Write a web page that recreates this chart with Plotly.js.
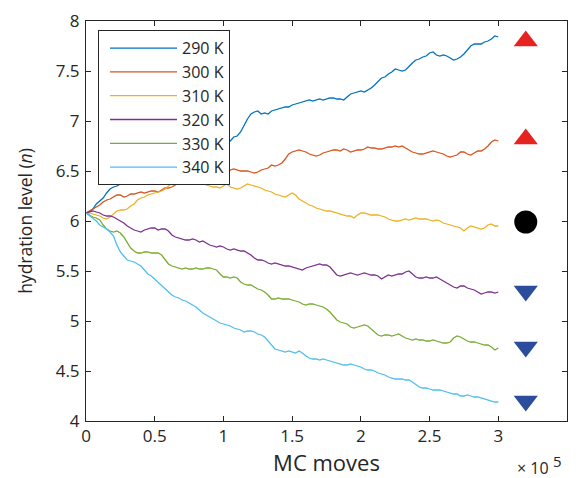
<!DOCTYPE html>
<html>
<head>
<meta charset="utf-8">
<script src="https://cdn.plot.ly/plotly-3.0.1.min.js"></script>
<style>html,body{margin:0;padding:0;background:#fff;}#chart{width:576px;height:478px;}</style>
</head>
<body>
<div id="chart"></div>
<script>
// MC moves (×10^5)
const moves = [
  0,0.025,0.05,0.075,0.1,0.125,0.15,0.175,0.2,0.225,0.25,0.275,0.3,0.325,0.35,0.375,0.4,0.425,0.45,0.475,
  0.5,0.525,0.55,0.575,0.6,0.625,0.65,0.675,0.7,0.725,0.75,0.775,0.8,0.825,0.85,0.875,0.9,0.925,0.95,0.975,
  1.0,1.025,1.05,1.075,1.1,1.125,1.15,1.175,1.2,1.225,1.25,1.275,1.3,1.325,1.35,1.375,1.4,1.425,1.45,1.475,
  1.5,1.525,1.55,1.575,1.6,1.625,1.65,1.675,1.7,1.725,1.75,1.775,1.8,1.825,1.85,1.875,1.9,1.925,1.95,1.975,
  2.0,2.025,2.05,2.075,2.1,2.125,2.15,2.175,2.2,2.225,2.25,2.275,2.3,2.325,2.35,2.375,2.4,2.425,2.45,2.475,
  2.5,2.525,2.55,2.575,2.6,2.625,2.65,2.675,2.7,2.725,2.75,2.775,2.8,2.825,2.85,2.875,2.9,2.925,2.95,2.975,
  3.0];

const labels = ['290 K','300 K','310 K','320 K','330 K','340 K'];

const n290 = [
  6.08,6.09,6.12,6.17,6.20,6.23,6.28,6.32,6.34,6.35,6.37,6.40,6.41,6.41,6.42,6.43,6.43,6.44,6.46,6.47,
  6.48,6.50,6.51,6.52,6.53,6.54,6.56,6.57,6.58,6.60,6.61,6.62,6.64,6.66,6.67,6.68,6.70,6.72,6.73,6.74,
  6.76,6.78,6.80,6.84,6.85,6.89,6.96,7.02,7.07,7.09,7.10,7.07,7.08,7.07,7.10,7.11,7.12,7.13,7.14,7.14,
  7.16,7.17,7.18,7.19,7.20,7.21,7.20,7.21,7.22,7.21,7.22,7.23,7.23,7.22,7.22,7.21,7.24,7.27,7.28,7.29,
  7.30,7.29,7.31,7.33,7.36,7.40,7.43,7.44,7.47,7.49,7.52,7.51,7.50,7.51,7.55,7.58,7.61,7.62,7.64,7.65,
  7.68,7.69,7.66,7.65,7.66,7.65,7.63,7.61,7.62,7.64,7.67,7.71,7.75,7.77,7.77,7.77,7.79,7.80,7.82,7.85,
  7.84];
const n300 = [
  6.08,6.10,6.12,6.14,6.16,6.19,6.21,6.22,6.24,6.26,6.26,6.24,6.25,6.27,6.27,6.28,6.29,6.28,6.29,6.30,
  6.30,6.29,6.31,6.33,6.33,6.34,6.36,6.38,6.40,6.42,6.42,6.40,6.41,6.43,6.42,6.40,6.40,6.38,6.40,6.41,
  6.44,6.48,6.51,6.52,6.51,6.50,6.50,6.50,6.49,6.48,6.49,6.51,6.52,6.53,6.56,6.55,6.56,6.58,6.62,6.67,
  6.69,6.70,6.71,6.70,6.69,6.67,6.66,6.65,6.66,6.68,6.69,6.70,6.71,6.71,6.70,6.72,6.71,6.69,6.70,6.71,
  6.71,6.72,6.74,6.73,6.73,6.72,6.72,6.73,6.74,6.74,6.75,6.74,6.75,6.73,6.71,6.69,6.68,6.67,6.67,6.68,
  6.69,6.70,6.69,6.68,6.67,6.65,6.64,6.65,6.66,6.69,6.69,6.67,6.66,6.68,6.70,6.70,6.72,6.75,6.79,6.81,
  6.80];
const n310 = [
  6.08,6.08,6.07,6.06,6.05,6.03,6.02,6.04,6.07,6.10,6.11,6.11,6.12,6.15,6.17,6.21,6.23,6.24,6.26,6.27,
  6.28,6.29,6.30,6.32,6.35,6.39,6.38,6.37,6.39,6.38,6.37,6.38,6.39,6.40,6.38,6.36,6.35,6.34,6.34,6.33,
  6.35,6.37,6.34,6.33,6.32,6.33,6.35,6.37,6.36,6.35,6.34,6.33,6.31,6.30,6.29,6.27,6.26,6.25,6.24,6.26,
  6.28,6.26,6.22,6.20,6.18,6.16,6.15,6.13,6.12,6.11,6.10,6.10,6.09,6.08,6.07,6.06,6.05,6.05,6.03,6.06,
  6.08,6.08,6.07,6.06,6.06,6.06,6.05,6.04,6.02,6.01,6.00,6.00,6.01,6.02,6.01,6.02,6.03,6.02,6.02,6.02,
  6.01,6.00,6.01,6.00,5.98,5.97,5.96,5.95,5.94,5.93,5.90,5.93,5.95,5.94,5.93,5.92,5.93,5.96,5.97,5.95,
  5.95];
const n320 = [
  6.08,6.09,6.10,6.09,6.08,6.06,6.05,6.05,6.04,6.02,6.00,5.98,5.95,5.93,5.91,5.90,5.89,5.91,5.92,5.93,
  5.93,5.91,5.92,5.92,5.90,5.86,5.84,5.83,5.82,5.81,5.81,5.82,5.81,5.79,5.80,5.78,5.76,5.75,5.74,5.75,
  5.74,5.72,5.71,5.72,5.71,5.70,5.70,5.68,5.66,5.63,5.61,5.61,5.60,5.58,5.57,5.58,5.57,5.56,5.55,5.55,
  5.54,5.53,5.52,5.51,5.53,5.54,5.55,5.56,5.57,5.56,5.56,5.54,5.50,5.46,5.45,5.46,5.47,5.48,5.47,5.46,
  5.47,5.48,5.47,5.46,5.46,5.45,5.42,5.44,5.46,5.45,5.46,5.47,5.47,5.49,5.50,5.47,5.44,5.43,5.43,5.44,
  5.43,5.43,5.44,5.42,5.40,5.38,5.36,5.34,5.33,5.35,5.35,5.33,5.32,5.31,5.29,5.27,5.28,5.29,5.29,5.28,
  5.29];
const n330 = [
  6.08,6.06,6.04,6.03,6.01,5.96,5.92,5.90,5.89,5.90,5.88,5.84,5.78,5.73,5.70,5.68,5.68,5.69,5.69,5.68,
  5.68,5.68,5.66,5.62,5.57,5.55,5.54,5.53,5.52,5.53,5.52,5.52,5.53,5.52,5.52,5.53,5.53,5.52,5.51,5.47,
  5.44,5.44,5.43,5.44,5.43,5.39,5.37,5.36,5.36,5.34,5.32,5.31,5.29,5.26,5.22,5.22,5.23,5.22,5.22,5.22,
  5.21,5.20,5.19,5.17,5.16,5.17,5.17,5.16,5.15,5.14,5.12,5.09,5.05,5.01,4.99,4.98,4.97,4.94,4.93,4.94,
  4.95,4.96,4.95,4.92,4.89,4.86,4.85,4.86,4.86,4.85,4.86,4.87,4.85,4.83,4.82,4.81,4.82,4.81,4.81,4.80,
  4.80,4.81,4.80,4.79,4.78,4.78,4.79,4.83,4.85,4.84,4.82,4.80,4.79,4.79,4.78,4.77,4.76,4.76,4.74,4.71,
  4.73];
const n340 = [
  6.08,6.05,6.03,6.00,5.96,5.94,5.92,5.89,5.85,5.76,5.69,5.65,5.61,5.60,5.59,5.57,5.55,5.51,5.47,5.45,
  5.42,5.39,5.36,5.33,5.29,5.26,5.24,5.23,5.21,5.20,5.18,5.16,5.14,5.11,5.08,5.06,5.04,5.02,5.00,4.98,
  4.97,4.96,4.95,4.93,4.92,4.91,4.89,4.90,4.90,4.89,4.87,4.86,4.84,4.80,4.75,4.72,4.71,4.70,4.69,4.70,
  4.69,4.68,4.70,4.68,4.65,4.63,4.62,4.62,4.61,4.62,4.61,4.60,4.59,4.58,4.57,4.56,4.56,4.57,4.56,4.55,
  4.54,4.52,4.51,4.51,4.50,4.48,4.47,4.46,4.44,4.43,4.42,4.42,4.42,4.41,4.41,4.39,4.36,4.34,4.33,4.33,
  4.32,4.31,4.31,4.31,4.30,4.29,4.28,4.27,4.27,4.25,4.25,4.26,4.25,4.24,4.24,4.23,4.22,4.21,4.20,4.19,
  4.19];

// markers on the right
const markerX = [3.2,3.2,3.2,3.2,3.2,3.2];
const markerY = [7.80,6.82,5.99,5.30,4.74,4.20];
const markerSymbols = ['triangle-up','triangle-up','circle','triangle-down','triangle-down','triangle-down'];
const markerColors = ['#e52421','#e52421','#000000','#2c4d9c','#2c4d9c','#2c4d9c'];
const markerSizes = [21,21,23,21,21,21];

const xTicks = [0,0.5,1,1.5,2,2.5,3,3.5];
const xTickText = ['0','0.5','1','1.5','2','2.5','3','3.5'];
const yTicks = [4,4.5,5,5.5,6,6.5,7,7.5,8];
const yTickText = ['4','4.5','5','5.5','6','6.5','7','7.5','8'];

const series = [n290,n300,n310,n320,n330,n340];
const colors = ['#0072BD','#D95319','#EDB120','#7E2F8E','#77AC30','#4DBEEE'];

const traces = series.map((ys,i)=>({
  x: moves, y: ys, name: labels[i], type:'scatter', mode:'lines',
  line:{color:colors[i], width:1.3}
}));
traces.push({
  x: markerX, y: markerY, type:'scatter', mode:'markers', showlegend:false,
  marker:{symbol:markerSymbols, color:markerColors, size:markerSizes, opacity:1, line:{width:0}},
  cliponaxis:false
});

const fam = '"Open Sans", "Noto Sans", sans-serif';
const tc = '#262626';
const layout = {
  width:576, height:478,
  margin:{l:86, r:9, t:21, b:57},
  paper_bgcolor:'#fff', plot_bgcolor:'#fff',
  showlegend:true,
  font:{family:fam, color:tc, size:16},
  xaxis:{
    range:[0,3.5], tickvals:xTicks, ticktext:xTickText,
    ticks:'inside', ticklen:5, tickcolor:tc, tickwidth:1,
    showline:true, linecolor:tc, linewidth:1, mirror:'ticks',
    showgrid:false, zeroline:false,
    tickfont:{family:fam, color:tc, size:17},
    title:{text:'MC moves', font:{family:fam, color:tc, size:22}, standoff:2}
  },
  yaxis:{
    range:[4,8], tickvals:yTicks, ticktext:yTickText,
    ticks:'inside', ticklen:5, tickcolor:tc, tickwidth:1,
    showline:true, linecolor:tc, linewidth:1, mirror:'ticks',
    showgrid:false, zeroline:false,
    tickfont:{family:fam, color:tc, size:17},
    ticklabelstandoff:2,
    title:{text:'hydration level (<i>n</i>)', font:{family:fam, color:tc, size:17.5}, standoff:18}
  },
  legend:{
    x:0.025, y:0.977, xanchor:'left', yanchor:'top',
    bgcolor:'#fff', bordercolor:tc, borderwidth:1,
    font:{family:fam, color:tc, size:16},
    itemwidth:73, tracegroupgap:0
  },
  annotations:[
    {xref:'paper', yref:'paper', x:0.929, y:-0.118, xanchor:'center', yanchor:'middle',
     text:'× 10', showarrow:false, borderpad:0, font:{family:fam, color:tc, size:16}},
    {xref:'paper', yref:'paper', x:0.981, y:-0.100, xanchor:'center', yanchor:'middle',
     text:'5', showarrow:false, borderpad:0, font:{family:fam, color:tc, size:15}}
  ]
};

Plotly.newPlot('chart', traces, layout, {displayModeBar:false, staticPlot:true}).then(function(gd){
  // stretch legend line samples to the reference's length
  gd.querySelectorAll('.legend .traces .legendlines path').forEach(function(p){
    p.setAttribute('d','M11,0h67');
  });
});
</script>
</body>
</html>
